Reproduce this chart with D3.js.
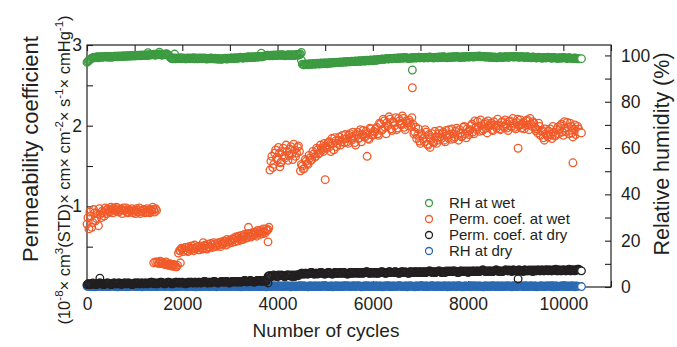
<!DOCTYPE html>
<html>
<head>
<meta charset="utf-8">
<script src="https://cdn.jsdelivr.net/npm/d3@7"></script>
<style>
  body { margin: 0; background: #fff; }
  svg text { font-family: "Liberation Sans", Arial, sans-serif; fill: #231f20; }
</style>
</head>
<body>
<svg id="chart" width="677" height="347"></svg>
<script>
// two readings per STEP cycles (one on the step, one half way)
const STEP = 40;

// RH at wet (%)
const rhWet = [
  97.0, 97.8, 98.5, 98.9, 99.1, 99.3, 99.0, 99.4, 99.2, 99.5, 99.3, 99.6, 99.4, 99.2, 99.5, 99.7, 99.4, 99.6, 99.8, 99.5,
  99.7, 99.9, 99.6, 99.8, 100.0, 99.7, 99.9, 100.1, 99.8, 100.0, 100.2, 99.9, 100.1, 100.3,
  100.2, 100.5, 100.1, 100.4, 100.6, 100.2, 100.5, 100.3, 100.6, 100.0,
  98.8, 98.5, 98.9, 98.6, 98.7, 99.0, 98.6, 98.8, 98.5, 98.9, 98.7, 98.6, 99.0, 98.8, 98.5, 98.7, 98.9, 98.6,
  98.8, 98.4, 98.7, 98.9, 98.5, 98.8, 98.6, 98.3, 98.6, 98.4, 98.7, 98.5, 98.8, 98.6, 98.9, 98.7, 99.0, 98.8,
  98.9, 99.1, 98.8, 99.2, 99.0, 99.3, 99.1, 99.4, 99.2, 99.5, 99.3, 99.6, 99.4, 99.7, 99.9, 100.1, 99.8, 100.0,
  100.2, 99.9, 100.1, 100.3,
  100.0, 100.2, 99.8, 100.1, 100.3, 99.9, 100.2, 100.0, 100.4, 100.1, 100.6,
  96.2, 95.9, 96.3, 96.0, 96.4, 96.1, 96.5, 96.2, 96.6, 96.3, 96.7, 96.5, 96.8, 96.4, 96.9, 96.6, 97.0, 96.8,
  97.1, 96.9, 97.2, 97.0, 97.3, 97.1, 97.4, 97.2, 97.5, 97.3, 97.6, 97.4, 97.7, 97.5, 97.8, 97.6, 97.9, 97.7,
  98.0, 97.8, 98.1, 97.9, 98.2,
  98.2, 98.5, 98.3, 98.6, 98.4, 98.7, 98.5, 98.8, 98.6, 98.9, 98.7, 99.0, 98.8, 99.1, 98.9, 98.6, 99.0, 98.8,
  99.1, 98.9, 99.2, 99.0,
  99.1, 98.9, 99.2, 99.0, 99.3, 99.1, 98.9, 99.2, 99.0, 99.3, 99.1, 99.4, 99.2, 99.0, 99.3, 99.1, 99.4, 99.2,
  99.5, 99.3, 99.1, 99.4, 99.2, 99.5, 99.3,
  99.4, 99.6, 99.3, 99.7, 99.5, 99.8, 99.4, 99.6, 99.3, 99.5, 99.2, 99.4, 99.1, 99.3, 99.0, 99.2, 99.4, 99.1,
  99.3, 99.5, 99.2, 99.4, 99.6, 99.3, 99.5,
  99.4, 99.2, 99.5, 99.3, 99.1, 99.4, 99.2, 99.0, 99.3, 99.1, 98.9, 99.2, 99.0, 98.8, 99.1, 98.9, 99.2, 99.0,
  98.8, 99.1, 98.9, 98.7, 99.0, 98.8, 99.1, 98.9, 98.7, 99.0, 98.8, 98.6, 98.9, 98.7, 98.5
];
const rhWetMid = [
  97.4, 98.2, 98.8, 99.2, 99.0, 99.4, 99.2, 99.5, 99.3, 99.6, 99.4, 99.2, 99.6, 99.4, 99.7, 99.5, 99.8, 99.5,
  99.7, 99.9, 99.6, 99.8, 100.0, 99.7, 99.9, 100.1, 99.8, 100.0, 100.2, 99.9, 100.1, 100.3, 100.0, 100.4,
  100.4, 100.2, 100.6, 100.3, 100.5, 100.1, 100.4, 100.7, 100.2, 99.4,
  98.6, 98.8, 98.5, 98.9, 98.6, 98.8, 98.9, 98.5, 98.8, 98.6, 98.9, 98.7, 98.5, 98.8, 98.9, 98.6, 98.7, 98.9,
  98.5, 98.7, 98.5, 98.8, 98.6, 98.4, 98.7, 98.5, 98.3, 98.6, 98.8, 98.4, 98.7, 98.9, 98.6, 98.9, 98.7, 99.0,
  99.2, 98.9, 99.1, 99.0, 99.4, 99.2, 99.3, 99.1, 99.5, 99.3, 99.6, 99.4, 99.7, 99.8, 100.0, 99.9, 100.1, 99.8,
  100.0, 100.2, 100.0, 100.1,
  100.3, 99.9, 100.1, 100.2, 100.0, 100.3, 99.9, 100.3, 100.2, 100.4, 98.0,
  96.0, 96.2, 96.1, 96.3, 96.2, 96.4, 96.3, 96.5, 96.4, 96.6, 96.4, 96.7, 96.6, 96.8, 96.7, 96.9, 96.8, 97.0,
  96.9, 97.1, 97.0, 97.2, 97.1, 97.3, 97.2, 97.4, 97.3, 97.5, 97.4, 97.6, 97.5, 97.7, 97.6, 97.8, 97.7, 97.9,
  97.8, 98.0, 97.9, 98.1, 98.3,
  98.4, 98.3, 98.5, 98.6, 98.5, 98.7, 98.6, 98.8, 98.7, 98.9, 98.8, 98.9, 99.0, 98.9, 98.7, 98.8, 98.9, 99.0,
  98.9, 99.1, 99.0, 99.1,
  99.0, 99.1, 99.0, 99.2, 99.1, 99.0, 99.1, 99.1, 99.2, 99.2, 99.3, 99.3, 99.1, 99.2, 99.2, 99.3, 99.3, 99.4,
  99.4, 99.2, 99.3, 99.3, 99.4, 99.4, 99.4,
  99.5, 99.4, 99.5, 99.6, 99.7, 99.6, 99.5, 99.4, 99.4, 99.3, 99.3, 99.2, 99.2, 99.1, 99.1, 99.3, 99.2, 99.2,
  99.4, 99.3, 99.3, 99.5, 99.4, 99.4, 99.4,
  99.3, 99.4, 99.4, 99.2, 99.3, 99.3, 99.1, 99.2, 99.2, 99.0, 99.1, 99.1, 98.9, 99.0, 99.0, 99.1, 99.1, 98.9,
  99.0, 99.0, 98.8, 98.9, 98.9, 99.0, 99.0, 98.8, 98.9, 98.9, 98.7, 98.8, 98.8, 98.6, 98.6
];
const rhWetExtra = [[1280, 101.2], [1520, 101.4], [1840, 100.6], [3660, 101.0], [4500, 101.3], [6830, 93.7], [10380, 98.6]];

// Perm. coef. at wet (10^-8 units)
const permWet = [
  0.78, 0.72, 0.88, 0.80, 0.92, 0.85, 0.76, 0.90, 0.94, 0.88, 0.95, 0.97, 0.93, 0.96, 0.98, 0.95, 0.97, 0.94,
  0.96, 0.98, 0.95, 0.93, 0.96, 0.94, 0.92, 0.95, 0.97, 0.93, 0.91, 0.94, 0.96, 0.93, 0.95, 0.92, 0.94, 0.96, 0.97,
  0.31, 0.30, 0.29, 0.30, 0.28, 0.29, 0.27, 0.28, 0.26, 0.27, 0.25,
  0.42, 0.45, 0.47,
  0.46, 0.49, 0.44, 0.48, 0.51, 0.45, 0.47, 0.50, 0.46, 0.49,
  0.48, 0.52, 0.47, 0.50, 0.54, 0.49, 0.53, 0.51, 0.55, 0.50, 0.54, 0.57, 0.52, 0.56, 0.58,
  0.55, 0.59, 0.62, 0.57, 0.60, 0.64, 0.59, 0.63, 0.61, 0.66, 0.62, 0.65, 0.68, 0.63, 0.67, 0.70, 0.66, 0.69, 0.72, 0.71,
  1.45, 1.62, 1.52, 1.70, 1.58, 1.66, 1.55, 1.72, 1.60, 1.68, 1.63, 1.74, 1.58, 1.70, 1.66, 1.75,
  1.44, 1.50, 1.47, 1.56, 1.52, 1.60, 1.58, 1.65, 1.62, 1.70, 1.66, 1.72, 1.68, 1.75,
  1.72, 1.80, 1.68, 1.78, 1.85, 1.74, 1.82, 1.76, 1.88, 1.79,
  1.84, 1.78, 1.90, 1.82, 1.87, 1.76, 1.92, 1.85, 1.80, 1.94, 1.86, 1.90, 1.83, 1.96, 1.88,
  1.92, 1.98, 1.88, 2.02, 1.95, 2.06, 1.90, 2.00, 2.08, 1.94, 2.04, 2.10, 1.97, 2.06, 2.01, 2.09, 1.95, 2.03, 2.07, 1.99,
  2.02, 1.92, 1.84, 1.96, 1.78, 1.88, 1.80, 1.92, 1.76, 1.85, 1.90, 1.79, 1.86, 1.82, 1.94,
  1.84, 1.92, 1.80, 1.88, 1.95, 1.83, 1.90, 1.86, 1.97, 1.82, 1.91, 1.87, 1.99, 1.85, 1.93,
  1.95, 2.02, 1.90, 1.98, 2.05, 1.93, 2.00, 1.96, 2.04, 1.91, 1.99, 2.03, 1.94, 2.01, 1.97,
  2.00, 1.95, 2.05, 1.98, 2.02, 1.94, 2.06, 1.99, 2.03, 1.96, 2.08, 2.01, 1.97, 2.04, 2.00, 2.07, 1.95, 2.02, 2.05, 1.98,
  1.96, 2.03, 1.88, 1.94, 1.82, 1.90, 1.86, 1.96, 1.84, 1.92, 1.88, 1.98,
  1.95, 2.02, 1.88, 1.97, 2.04, 1.90, 1.99, 1.86, 2.01, 1.93, 1.96
];
const permWetMid = [
  0.86, 0.93, 0.74, 0.96, 0.82, 0.91, 0.97, 0.86, 0.92, 0.98, 0.91, 0.94, 0.99, 0.92, 0.95, 0.99, 0.93, 0.96,
  0.91, 0.95, 0.98, 0.92, 0.95, 0.97, 0.94, 0.91, 0.95, 0.98, 0.94, 0.96, 0.92, 0.97, 0.93, 0.96, 0.99, 0.93, 0.95,
  0.29, 0.32, 0.30, 0.28, 0.31, 0.27, 0.29, 0.26, 0.28, 0.25, 0.27,
  0.45, 0.48, 0.44,
  0.49, 0.45, 0.50, 0.46, 0.48, 0.52, 0.49, 0.46, 0.51, 0.47,
  0.51, 0.48, 0.53, 0.49, 0.52, 0.55, 0.50, 0.54, 0.52, 0.56, 0.53, 0.55, 0.59, 0.54, 0.57,
  0.60, 0.56, 0.61, 0.63, 0.58, 0.62, 0.65, 0.61, 0.66, 0.63, 0.67, 0.64, 0.66, 0.70, 0.65, 0.68, 0.72, 0.67, 0.70, 0.74,
  1.56, 1.48, 1.66, 1.60, 1.73, 1.54, 1.68, 1.62, 1.76, 1.57, 1.71, 1.65, 1.77, 1.62, 1.73, 1.68,
  1.52, 1.46, 1.58, 1.53, 1.63, 1.57, 1.68, 1.61, 1.72, 1.65, 1.76, 1.70, 1.78, 1.73,
  1.79, 1.74, 1.84, 1.70, 1.81, 1.78, 1.86, 1.80, 1.83, 1.89,
  1.80, 1.88, 1.85, 1.92, 1.79, 1.89, 1.84, 1.95, 1.89, 1.86, 1.93, 1.84, 1.97, 1.89, 1.93,
  1.96, 1.90, 2.03, 1.94, 2.08, 1.98, 2.04, 2.11, 1.96, 2.05, 2.00, 1.95, 2.09, 2.02, 2.12, 1.98, 2.06, 2.00, 2.04, 2.10,
  1.90, 1.98, 1.88, 1.81, 1.90, 1.84, 1.95, 1.77, 1.89, 1.83, 1.80, 1.93, 1.78, 1.90, 1.86,
  1.90, 1.82, 1.94, 1.85, 1.89, 1.96, 1.84, 1.93, 1.88, 1.95, 1.86, 1.98, 1.90, 1.96, 1.89,
  2.00, 1.92, 2.06, 1.95, 1.99, 2.07, 1.94, 2.02, 1.97, 2.06, 2.01, 1.95, 2.05, 1.99, 2.08,
  1.96, 2.04, 1.99, 2.07, 1.97, 2.05, 1.99, 2.09, 1.98, 2.04, 2.00, 2.07, 2.02, 1.96, 2.06, 2.01, 2.09, 1.99, 2.03, 1.94,
  1.91, 1.99, 1.93, 1.85, 1.96, 1.88, 1.93, 1.89, 1.99, 1.87, 1.95, 1.90,
  2.00, 1.92, 2.05, 1.93, 1.98, 2.03, 1.91, 1.96, 1.89, 1.99, 1.92
];
const permWetExtra = [
  [1400, 0.30], [1440, 0.31], [1960, 0.30], [2440, 0.55], [3260, 0.59], [3390, 0.74], [3800, 0.56],
  [4050, 1.49], [5000, 1.33], [5880, 1.62], [6830, 2.47], [7200, 1.73], [9050, 1.72], [10200, 1.54], [10380, 1.91]
];

// Perm. coef. at dry
const permDry = [
  0.03, 0.04, 0.03, 0.05, 0.04, 0.03, 0.04, 0.05, 0.04, 0.03,
  0.04, 0.05, 0.04, 0.03, 0.05, 0.04, 0.04, 0.05, 0.03, 0.04,
  0.05, 0.04, 0.05, 0.04, 0.03, 0.05, 0.04, 0.05, 0.04, 0.05,
  0.04, 0.05, 0.04, 0.05, 0.06, 0.04, 0.05, 0.04, 0.05, 0.06,
  0.05, 0.04, 0.05, 0.06, 0.05, 0.04, 0.05, 0.06, 0.05, 0.05,
  0.06, 0.05, 0.04, 0.06, 0.05, 0.06, 0.05, 0.06, 0.05, 0.06,
  0.05, 0.06, 0.07, 0.05, 0.06, 0.05, 0.06, 0.07, 0.06, 0.05,
  0.06, 0.07, 0.06, 0.07, 0.06, 0.05, 0.07, 0.06, 0.07, 0.06,
  0.07, 0.06, 0.07, 0.08, 0.06, 0.07, 0.08, 0.07, 0.06, 0.08,
  0.07, 0.08, 0.07, 0.08, 0.07,
  0.13, 0.14, 0.13, 0.15, 0.14, 0.13, 0.14, 0.15, 0.14, 0.13, 0.15, 0.14, 0.15, 0.14, 0.13, 0.15, 0.14,
  0.16, 0.17, 0.16, 0.17, 0.16, 0.17, 0.18, 0.16, 0.17, 0.16,
  0.17, 0.18, 0.17, 0.16, 0.17, 0.18, 0.17, 0.16, 0.18, 0.17,
  0.17, 0.18, 0.17, 0.18, 0.17, 0.16, 0.18, 0.17, 0.18, 0.17,
  0.18, 0.17, 0.18, 0.17, 0.18, 0.19, 0.17, 0.18, 0.17, 0.18,
  0.18, 0.17, 0.18, 0.19, 0.18, 0.17, 0.18, 0.19, 0.18, 0.18,
  0.19, 0.18, 0.17, 0.19, 0.18, 0.19, 0.18, 0.17, 0.19, 0.18,
  0.18, 0.19, 0.18, 0.19, 0.18, 0.19, 0.18, 0.19, 0.20, 0.18,
  0.19, 0.18, 0.19, 0.20, 0.18, 0.19, 0.18, 0.19, 0.20, 0.19,
  0.19, 0.20, 0.19, 0.18, 0.20, 0.19, 0.20, 0.19, 0.18, 0.20,
  0.19, 0.20, 0.19, 0.20, 0.19, 0.20, 0.21, 0.19, 0.20, 0.19,
  0.20, 0.19, 0.20, 0.21, 0.19, 0.20, 0.19, 0.20, 0.21, 0.20,
  0.20, 0.19, 0.21, 0.20, 0.20, 0.21, 0.20, 0.19, 0.21, 0.20,
  0.21, 0.20, 0.19, 0.21, 0.20, 0.21, 0.20, 0.21, 0.20, 0.21,
  0.20, 0.21, 0.20, 0.21, 0.22, 0.20, 0.21, 0.20, 0.21, 0.20,
  0.21, 0.22, 0.20, 0.21, 0.20, 0.21, 0.22
];
const permDryMid = [
  0.04, 0.03, 0.04, 0.04, 0.03, 0.04, 0.05, 0.04, 0.03, 0.04,
  0.05, 0.04, 0.03, 0.04, 0.05, 0.04, 0.05, 0.04, 0.04, 0.05,
  0.04, 0.05, 0.04, 0.03, 0.04, 0.05, 0.05, 0.04, 0.05, 0.04,
  0.05, 0.04, 0.05, 0.06, 0.05, 0.05, 0.04, 0.05, 0.06, 0.05,
  0.04, 0.05, 0.06, 0.05, 0.04, 0.05, 0.06, 0.05, 0.06, 0.05,
  0.05, 0.04, 0.05, 0.06, 0.06, 0.05, 0.06, 0.05, 0.06, 0.05,
  0.06, 0.07, 0.06, 0.05, 0.06, 0.06, 0.07, 0.06, 0.05, 0.06,
  0.07, 0.06, 0.06, 0.07, 0.05, 0.06, 0.07, 0.07, 0.06, 0.07,
  0.06, 0.07, 0.08, 0.07, 0.07, 0.08, 0.07, 0.06, 0.07, 0.08,
  0.08, 0.07, 0.08, 0.07, 0.10,
  0.14, 0.13, 0.14, 0.14, 0.13, 0.15, 0.14, 0.14, 0.13, 0.14, 0.15, 0.14, 0.13, 0.15, 0.14, 0.15, 0.16,
  0.17, 0.16, 0.17, 0.16, 0.17, 0.18, 0.17, 0.16, 0.17, 0.17,
  0.18, 0.17, 0.16, 0.17, 0.18, 0.17, 0.16, 0.17, 0.18, 0.17,
  0.18, 0.17, 0.18, 0.17, 0.16, 0.17, 0.18, 0.17, 0.18, 0.18,
  0.17, 0.18, 0.17, 0.18, 0.19, 0.18, 0.17, 0.18, 0.18, 0.17,
  0.17, 0.18, 0.19, 0.18, 0.17, 0.18, 0.19, 0.18, 0.18, 0.19,
  0.18, 0.17, 0.18, 0.19, 0.18, 0.18, 0.17, 0.19, 0.18, 0.19,
  0.19, 0.18, 0.19, 0.18, 0.19, 0.18, 0.19, 0.20, 0.19, 0.19,
  0.18, 0.19, 0.20, 0.19, 0.18, 0.19, 0.20, 0.19, 0.19, 0.20,
  0.20, 0.19, 0.18, 0.19, 0.20, 0.19, 0.19, 0.20, 0.19, 0.19,
  0.20, 0.19, 0.20, 0.19, 0.20, 0.21, 0.20, 0.19, 0.20, 0.20,
  0.19, 0.20, 0.21, 0.20, 0.20, 0.19, 0.20, 0.21, 0.20, 0.21,
  0.20, 0.21, 0.20, 0.20, 0.21, 0.20, 0.20, 0.21, 0.20, 0.20,
  0.20, 0.21, 0.20, 0.20, 0.21, 0.20, 0.21, 0.20, 0.21, 0.21,
  0.21, 0.20, 0.21, 0.21, 0.20, 0.21, 0.20, 0.21, 0.21, 0.20,
  0.21, 0.20, 0.21, 0.21, 0.21, 0.22, 0.21
];
const permDryExtra = [[270, 0.11], [3800, 0.05], [9050, 0.10], [10380, 0.20]];

// RH at dry (%)
const rhDry = [
  0.4, 0.2, 0.5, 0.3, 0.1, 0.4, 0.6, 0.3, 0.2, 0.5,
  0.3, 0.5, 0.2, 0.4, 0.6, 0.3, 0.1, 0.4, 0.3, 0.5,
  0.2, 0.4, 0.5, 0.3, 0.6, 0.2, 0.4, 0.3, 0.5, 0.1,
  0.4, 0.3, 0.6, 0.2, 0.5, 0.3, 0.4, 0.2, 0.5, 0.3,
  0.5, 0.2, 0.3, 0.6, 0.4, 0.1, 0.3, 0.5, 0.2, 0.4,
  0.3, 0.6, 0.4, 0.2, 0.5, 0.3, 0.4, 0.1, 0.5, 0.3,
  0.2, 0.4, 0.3, 0.5, 0.6, 0.2, 0.4, 0.3, 0.1, 0.5,
  0.4, 0.3, 0.5, 0.2, 0.4, 0.6, 0.3, 0.5, 0.2, 0.4,
  0.3, 0.1, 0.4, 0.5, 0.3, 0.2, 0.6, 0.4, 0.3, 0.5,
  0.2, 0.5, 0.3, 0.4, 0.1, 0.6, 0.3, 0.2, 0.5, 0.4,
  0.5, 0.3, 0.2, 0.4, 0.6, 0.3, 0.5, 0.1, 0.4, 0.2,
  0.3, 0.4, 0.6, 0.2, 0.5, 0.3, 0.1, 0.4, 0.5, 0.3,
  0.4, 0.2, 0.5, 0.3, 0.6, 0.4, 0.2, 0.3, 0.5, 0.1,
  0.3, 0.5, 0.4, 0.2, 0.3, 0.6, 0.4, 0.5, 0.2, 0.3,
  0.6, 0.2, 0.4, 0.5, 0.1, 0.3, 0.4, 0.6, 0.3, 0.2,
  0.4, 0.3, 0.5, 0.2, 0.4, 0.1, 0.5, 0.3, 0.6, 0.4,
  0.2, 0.5, 0.3, 0.4, 0.6, 0.2, 0.3, 0.5, 0.1, 0.4,
  0.5, 0.3, 0.1, 0.4, 0.2, 0.5, 0.6, 0.3, 0.4, 0.2,
  0.3, 0.6, 0.4, 0.2, 0.5, 0.3, 0.2, 0.4, 0.5, 0.1,
  0.4, 0.2, 0.3, 0.5, 0.3, 0.6, 0.4, 0.1, 0.3, 0.5,
  0.2, 0.4, 0.6, 0.3, 0.5, 0.2, 0.4, 0.3, 0.1, 0.5,
  0.5, 0.3, 0.2, 0.6, 0.4, 0.3, 0.5, 0.2, 0.4, 0.3,
  0.3, 0.5, 0.4, 0.1, 0.6, 0.2, 0.3, 0.5, 0.4, 0.2,
  0.6, 0.4, 0.3, 0.5, 0.2, 0.4, 0.1, 0.3, 0.5, 0.4,
  0.2, 0.3, 0.5, 0.4, 0.6, 0.1, 0.4, 0.2, 0.3, 0.5,
  0.4, 0.6, 0.2, 0.3, 0.5, 0.4, 0.1, 0.3
];
const rhDryMid = [
  0.3, 0.4, 0.2, 0.5, 0.3, 0.2, 0.4, 0.5, 0.3, 0.4,
  0.2, 0.3, 0.5, 0.4, 0.2, 0.3, 0.5, 0.2, 0.4, 0.3,
  0.4, 0.2, 0.3, 0.5, 0.3, 0.4, 0.2, 0.5, 0.3, 0.2,
  0.5, 0.3, 0.4, 0.2, 0.3, 0.5, 0.2, 0.4, 0.3, 0.4,
  0.3, 0.4, 0.5, 0.2, 0.3, 0.4, 0.2, 0.3, 0.5, 0.3,
  0.4, 0.2, 0.3, 0.4, 0.3, 0.5, 0.2, 0.4, 0.3, 0.2,
  0.5, 0.3, 0.4, 0.2, 0.3, 0.4, 0.5, 0.2, 0.3, 0.4,
  0.2, 0.4, 0.3, 0.5, 0.2, 0.3, 0.4, 0.3, 0.5, 0.2,
  0.4, 0.3, 0.2, 0.4, 0.5, 0.3, 0.2, 0.3, 0.4, 0.3,
  0.3, 0.2, 0.4, 0.3, 0.5, 0.2, 0.4, 0.5, 0.3, 0.2,
  0.4, 0.5, 0.3, 0.2, 0.4, 0.3, 0.2, 0.4, 0.3, 0.5,
  0.2, 0.3, 0.4, 0.5, 0.3, 0.2, 0.4, 0.3, 0.2, 0.4,
  0.3, 0.4, 0.2, 0.4, 0.3, 0.5, 0.3, 0.2, 0.4, 0.3,
  0.5, 0.2, 0.3, 0.4, 0.2, 0.4, 0.3, 0.5, 0.3, 0.4,
  0.3, 0.4, 0.5, 0.3, 0.2, 0.4, 0.3, 0.2, 0.5, 0.3,
  0.2, 0.5, 0.3, 0.4, 0.3, 0.2, 0.4, 0.5, 0.2, 0.3,
  0.4, 0.3, 0.2, 0.5, 0.4, 0.3, 0.2, 0.4, 0.3, 0.5,
  0.3, 0.2, 0.4, 0.3, 0.5, 0.4, 0.2, 0.3, 0.4, 0.2,
  0.5, 0.3, 0.2, 0.4, 0.3, 0.4, 0.2, 0.5, 0.3, 0.4,
  0.3, 0.4, 0.5, 0.2, 0.4, 0.3, 0.2, 0.3, 0.5, 0.2,
  0.4, 0.2, 0.3, 0.4, 0.3, 0.5, 0.3, 0.2, 0.4, 0.3,
  0.2, 0.4, 0.5, 0.3, 0.2, 0.4, 0.3, 0.5, 0.2, 0.4,
  0.5, 0.3, 0.2, 0.4, 0.3, 0.2, 0.4, 0.3, 0.5, 0.3,
  0.3, 0.2, 0.4, 0.5, 0.3, 0.4, 0.2, 0.3, 0.4, 0.2,
  0.4, 0.5, 0.3, 0.2, 0.4, 0.3, 0.5, 0.2, 0.3, 0.4,
  0.2, 0.3, 0.4, 0.2, 0.5, 0.3, 0.4, 0.3
];
const rhDryExtra = [[10380, 0.2]];

const legendLabels = ["RH at wet", "Perm. coef. at wet", "Perm. coef. at dry", "RH at dry"];
const colors = { rhWet: "#3d9b41", permWet: "#f15a29", permDry: "#231f20", rhDry: "#2a6ab3" };

const width = 677, height = 347;
const margin = { top: 45, right: 66, bottom: 60, left: 87 };
const svg = d3.select("#chart");

const x = d3.scaleLinear().domain([0, 11000]).range([margin.left, width - margin.right]);
const yL = d3.scaleLinear().domain([0, 3]).range([height - margin.bottom, margin.top]);
const yR = d3.scaleLinear().domain([0, 104.5]).range([height - margin.bottom, margin.top]);

const x0 = margin.left, x1 = width - margin.right;
const y0 = height - margin.bottom, y1 = margin.top;

// turn value arrays (+ half-step readings + extras) into points sorted by cycle
function toPoints(vals, mid, extra) {
  const pts = vals.map((v, i) => ({ c: i * STEP, v }));
  (mid || []).forEach((v, i) => pts.push({ c: i * STEP + STEP / 2, v }));
  (extra || []).forEach(e => pts.push({ c: e[0], v: e[1] }));
  return pts.sort((a, b) => a.c - b.c);
}

// axes
const xTicks = d3.range(0, 11001, 1000);
svg.append("g")
  .attr("transform", `translate(0,${y0})`)
  .call(d3.axisBottom(x).tickValues(xTicks).tickSizeInner(-6).tickSizeOuter(0).tickPadding(11)
    .tickFormat(d => (d % 2000 === 0 && d <= 10000) ? d : ""));
svg.append("g")
  .attr("transform", `translate(0,${y1})`)
  .call(d3.axisTop(x).tickValues(xTicks).tickSizeInner(-6).tickSizeOuter(0).tickFormat(""));
svg.append("g")
  .attr("transform", `translate(${x0},0)`)
  .call(d3.axisLeft(yL).tickValues(d3.range(0, 3.01, 0.5)).tickSizeInner(-6).tickSizeOuter(0).tickPadding(5)
    .tickFormat(d => (Number.isInteger(d) && d > 0) ? d : ""));
svg.append("g")
  .attr("transform", `translate(${x1},0)`)
  .call(d3.axisRight(yR).tickValues(d3.range(0, 101, 10)).tickSizeInner(-6).tickSizeOuter(0).tickPadding(10)
    .tickFormat(d => d % 20 === 0 ? d : ""));

svg.selectAll(".domain").remove();
svg.selectAll(".tick line").attr("stroke", "#231f20").attr("stroke-width", 1.1);
svg.selectAll(".tick text").attr("font-size", 17.5).attr("fill", "#231f20");

// frame
svg.append("rect")
  .attr("x", x0).attr("y", y1).attr("width", x1 - x0).attr("height", y0 - y1)
  .attr("fill", "none").attr("stroke", "#231f20").attr("stroke-width", 1.2);

// data series: open circles, drawn in cycle order; last one keeps a white centre
function drawSeries(pts, yScale, color) {
  const last = pts.length - 1;
  svg.append("g").selectAll("circle")
    .data(pts).enter().append("circle")
    .attr("cx", d => x(d.c))
    .attr("cy", d => yScale(d.v))
    .attr("r", 3.8)
    .attr("fill", (d, i) => i === last ? "#fff" : "none")
    .attr("stroke", color)
    .attr("stroke-width", 1.3);
}
drawSeries(toPoints(rhDry, rhDryMid, rhDryExtra), yR, colors.rhDry);
drawSeries(toPoints(rhWet, rhWetMid, rhWetExtra), yR, colors.rhWet);
drawSeries(toPoints(permWet, permWetMid, permWetExtra), yL, colors.permWet);
drawSeries(toPoints(permDry, permDryMid, permDryExtra), yL, colors.permDry);

// legend
const legendColors = [colors.rhWet, colors.permWet, colors.permDry, colors.rhDry];
const legend = svg.append("g").attr("transform", "translate(429,203)");
legendLabels.forEach((label, i) => {
  legend.append("circle").attr("cx", 0).attr("cy", i * 16).attr("r", 3.5)
    .attr("fill", "#fff").attr("stroke", legendColors[i]).attr("stroke-width", 1.3);
  legend.append("text").attr("x", 20).attr("y", i * 16).attr("dy", "0.36em")
    .attr("font-size", 15).text(label);
});

// axis titles
svg.append("text")
  .attr("x", 326).attr("y", 337)
  .attr("text-anchor", "middle").attr("font-size", 19)
  .text("Number of cycles");

svg.append("text")
  .attr("transform", "translate(661,154) rotate(-90)")
  .attr("text-anchor", "middle").attr("dy", "0.35em").attr("font-size", 21.5)
  .text("Relative humidity (%)");

svg.append("text")
  .attr("transform", "translate(30,149) rotate(-90)")
  .attr("text-anchor", "middle").attr("dy", "0.35em").attr("font-size", 22)
  .text("Permeability coefficient");

const unitParts = [["(10", ""], ["-8", "sup"], ["\u00d7 cm", ""], ["3", "sup"], ["(STD)\u00d7 cm\u00d7 cm", ""],
  ["-2", "sup"], ["\u00d7 s", ""], ["-1", "sup"], ["\u00d7 cmHg", ""], ["-1", "sup"], [")", ""]];
const unit = svg.append("text")
  .attr("transform", "translate(64,170) rotate(-90)")
  .attr("text-anchor", "middle").attr("dy", "0.35em").attr("font-size", 16.5);
let up = false;
unitParts.forEach(([t, kind]) => {
  const ts = unit.append("tspan").text(t);
  if (kind === "sup" && !up) { ts.attr("dy", -7).attr("font-size", 11.5); up = true; }
  else if (kind === "sup") { ts.attr("font-size", 11.5); }
  else if (up) { ts.attr("dy", 7); up = false; }
});
</script>
</body>
</html>
